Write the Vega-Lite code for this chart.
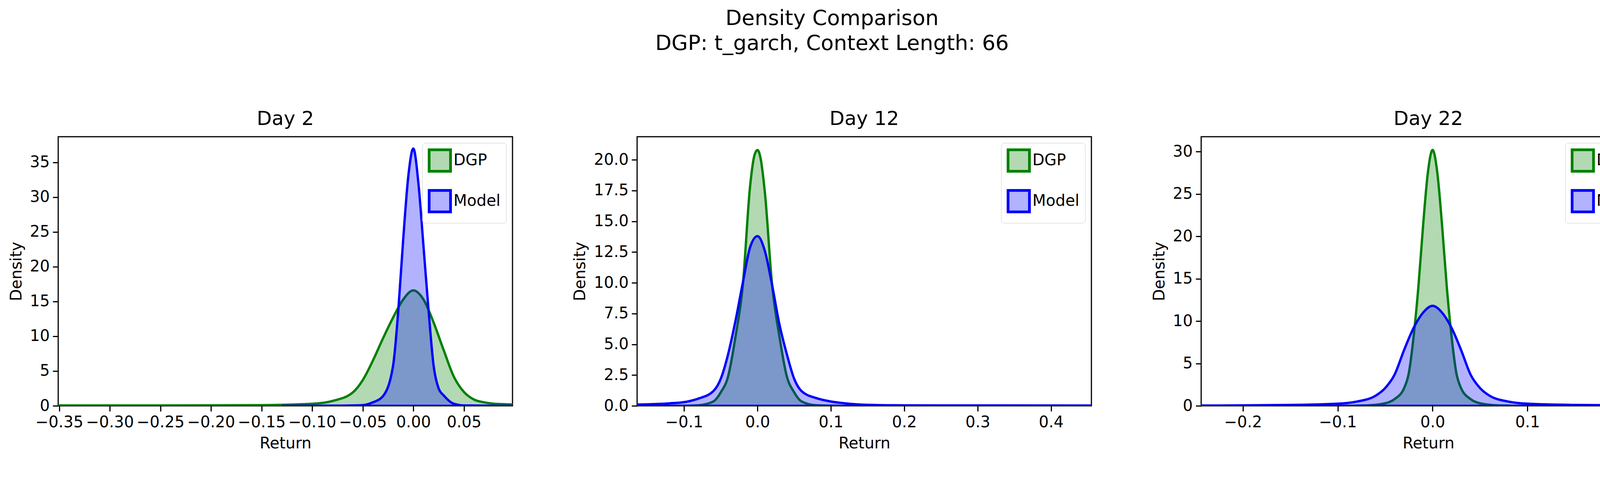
{
"$schema":"https://vega.github.io/schema/vega-lite/v6.json",
"background":"white",
"padding":{"left":20,"top":20,"right":20,"bottom":10},
"title":{"text":["Density Comparison","DGP: t_garch, Context Length: 66"],"fontSize":54,"font":"DejaVu Sans","fontWeight":"normal","color":"black","offset":140,"lineHeight":64,"anchor":"middle"},
"config":{"font":"DejaVu Sans","view":{"stroke":"black","strokeWidth":3},
"axis":{"grid":false,"domain":false,"tickColor":"black","tickWidth":3,"tickSize":14,"labelFontSize":40,"labelColor":"black","titleFontSize":40,"titleFontWeight":"normal","titleColor":"black","labelPadding":8,"titlePadding":14,"labelFont":"DejaVu Sans","titleFont":"DejaVu Sans"},
"title":{"fontSize":50,"fontWeight":"normal","font":"DejaVu Sans","offset":20},
"legend":{"orient":"top-right","title":null,"labelFontSize":40,"symbolType":"square","symbolSize":3000,"symbolStrokeWidth":7,"strokeColor":"#cccccc","fillColor":"white","padding":14,"cornerRadius":8,"rowPadding":20,"offset":16,"labelFont":"DejaVu Sans","labelColor":"black","symbolOpacity":1}},
"datasets":{
"d1":[
{"s":"DGP","x":-0.351,"y":0.05},{"s":"DGP","x":-0.25,"y":0.05},{"s":"DGP","x":-0.15,"y":0.1},{"s":"DGP","x":-0.1,"y":0.3},{"s":"DGP","x":-0.08,"y":0.7},{"s":"DGP","x":-0.06,"y":1.9},{"s":"DGP","x":-0.05,"y":3.7},{"s":"DGP","x":-0.04,"y":6.5},{"s":"DGP","x":-0.03,"y":9.7},{"s":"DGP","x":-0.02,"y":12.7},{"s":"DGP","x":-0.01,"y":15.3},{"s":"DGP","x":0,"y":16.6},{"s":"DGP","x":0.01,"y":15.3},{"s":"DGP","x":0.02,"y":12},{"s":"DGP","x":0.03,"y":8},{"s":"DGP","x":0.04,"y":4.2},{"s":"DGP","x":0.05,"y":2.0},{"s":"DGP","x":0.06,"y":0.9},{"s":"DGP","x":0.07,"y":0.5},{"s":"DGP","x":0.08,"y":0.3},{"s":"DGP","x":0.098,"y":0.2},
{"s":"Model","x":-0.13,"y":0.0},{"s":"Model","x":-0.07,"y":0.03},{"s":"Model","x":-0.05,"y":0.1},{"s":"Model","x":-0.04,"y":0.5},{"s":"Model","x":-0.03,"y":1.4},{"s":"Model","x":-0.02,"y":5.8},{"s":"Model","x":-0.015,"y":13.5},{"s":"Model","x":-0.01,"y":24},{"s":"Model","x":-0.005,"y":33},{"s":"Model","x":0,"y":37},{"s":"Model","x":0.005,"y":32},{"s":"Model","x":0.01,"y":23},{"s":"Model","x":0.015,"y":13.8},{"s":"Model","x":0.02,"y":5.8},{"s":"Model","x":0.025,"y":2.5},{"s":"Model","x":0.03,"y":1.5},{"s":"Model","x":0.04,"y":0.3},{"s":"Model","x":0.05,"y":0.05},{"s":"Model","x":0.098,"y":0.0}],
"d2":[
{"s":"DGP","x":-0.164,"y":0.0},{"s":"DGP","x":-0.1,"y":0.01},{"s":"DGP","x":-0.08,"y":0.05},{"s":"DGP","x":-0.06,"y":0.36},{"s":"DGP","x":-0.05,"y":1.1},{"s":"DGP","x":-0.04,"y":2.4},{"s":"DGP","x":-0.03,"y":5.6},{"s":"DGP","x":-0.02,"y":9.8},{"s":"DGP","x":-0.01,"y":17.9},{"s":"DGP","x":-0.004,"y":20.4},{"s":"DGP","x":0,"y":20.8},{"s":"DGP","x":0.004,"y":20.2},{"s":"DGP","x":0.01,"y":17.4},{"s":"DGP","x":0.02,"y":9.8},{"s":"DGP","x":0.03,"y":5.6},{"s":"DGP","x":0.04,"y":2.4},{"s":"DGP","x":0.05,"y":1.1},{"s":"DGP","x":0.06,"y":0.36},{"s":"DGP","x":0.08,"y":0.05},{"s":"DGP","x":0.12,"y":0.0},
{"s":"Model","x":-0.164,"y":0.1},{"s":"Model","x":-0.12,"y":0.2},{"s":"Model","x":-0.1,"y":0.3},{"s":"Model","x":-0.08,"y":0.6},{"s":"Model","x":-0.06,"y":1.2},{"s":"Model","x":-0.05,"y":2.2},{"s":"Model","x":-0.04,"y":4.2},{"s":"Model","x":-0.03,"y":6.9},{"s":"Model","x":-0.02,"y":10.0},{"s":"Model","x":-0.01,"y":12.9},{"s":"Model","x":0,"y":13.8},{"s":"Model","x":0.01,"y":12.6},{"s":"Model","x":0.02,"y":9.8},{"s":"Model","x":0.03,"y":6.6},{"s":"Model","x":0.04,"y":4.2},{"s":"Model","x":0.05,"y":2.2},{"s":"Model","x":0.06,"y":1.2},{"s":"Model","x":0.08,"y":0.63},{"s":"Model","x":0.1,"y":0.35},{"s":"Model","x":0.12,"y":0.2},{"s":"Model","x":0.15,"y":0.08},{"s":"Model","x":0.2,"y":0.04},{"s":"Model","x":0.3,"y":0.03},{"s":"Model","x":0.455,"y":0.02}],
"d3":[
{"s":"DGP","x":-0.244,"y":0.0},{"s":"DGP","x":-0.1,"y":0.01},{"s":"DGP","x":-0.07,"y":0.05},{"s":"DGP","x":-0.05,"y":0.3},{"s":"DGP","x":-0.04,"y":0.8},{"s":"DGP","x":-0.03,"y":2.1},{"s":"DGP","x":-0.025,"y":3.9},{"s":"DGP","x":-0.02,"y":8.2},{"s":"DGP","x":-0.015,"y":14},{"s":"DGP","x":-0.01,"y":21.3},{"s":"DGP","x":-0.005,"y":27.5},{"s":"DGP","x":0,"y":30.2},{"s":"DGP","x":0.005,"y":27.5},{"s":"DGP","x":0.01,"y":21.3},{"s":"DGP","x":0.015,"y":14},{"s":"DGP","x":0.02,"y":8.2},{"s":"DGP","x":0.025,"y":3.9},{"s":"DGP","x":0.03,"y":2.1},{"s":"DGP","x":0.04,"y":0.8},{"s":"DGP","x":0.05,"y":0.3},{"s":"DGP","x":0.07,"y":0.05},{"s":"DGP","x":0.1,"y":0.01},{"s":"DGP","x":0.235,"y":0.0},
{"s":"Model","x":-0.244,"y":0.03},{"s":"Model","x":-0.15,"y":0.1},{"s":"Model","x":-0.1,"y":0.25},{"s":"Model","x":-0.08,"y":0.5},{"s":"Model","x":-0.06,"y":1.2},{"s":"Model","x":-0.05,"y":2.1},{"s":"Model","x":-0.04,"y":3.7},{"s":"Model","x":-0.03,"y":6.6},{"s":"Model","x":-0.02,"y":9.2},{"s":"Model","x":-0.01,"y":11.0},{"s":"Model","x":0,"y":11.8},{"s":"Model","x":0.01,"y":11.0},{"s":"Model","x":0.02,"y":9.2},{"s":"Model","x":0.03,"y":6.6},{"s":"Model","x":0.04,"y":3.7},{"s":"Model","x":0.05,"y":2.1},{"s":"Model","x":0.06,"y":1.2},{"s":"Model","x":0.08,"y":0.5},{"s":"Model","x":0.1,"y":0.25},{"s":"Model","x":0.15,"y":0.1},{"s":"Model","x":0.235,"y":0.03}]},
"spacing":150,
"hconcat":[
{"title":"Day 2","width":1163,"height":689,"data":{"name":"d1"},"mark":{"type":"area","fillOpacity":0.3,"strokeWidth":6,"clip":true,"interpolate":"monotone"},
"encoding":{"x":{"field":"x","type":"quantitative","title":"Return","scale":{"domain":[-0.351,0.098],"nice":false,"zero":false},"axis":{"values":[-0.35,-0.3,-0.25,-0.2,-0.15,-0.1,-0.05,0,0.05],"format":".2f"}},
"y":{"field":"y","type":"quantitative","title":"Density","stack":null,"scale":{"domain":[0,38.7],"nice":false},"axis":{"values":[0,5,10,15,20,25,30,35]}},
"fill":{"field":"s","type":"nominal","scale":{"domain":["DGP","Model"],"range":["green","blue"]},"legend":{"symbolOpacity":1,"encode":{"symbols":{"update":{"fillOpacity":{"value":0.3},"strokeOpacity":{"value":1}}}}}},
"stroke":{"field":"s","type":"nominal","scale":{"domain":["DGP","Model"],"range":["green","blue"]}},
"order":{"field":"s"}}},
{"title":"Day 12","width":1163,"height":689,"data":{"name":"d2"},"mark":{"type":"area","fillOpacity":0.3,"strokeWidth":6,"clip":true,"interpolate":"monotone"},
"encoding":{"x":{"field":"x","type":"quantitative","title":"Return","scale":{"domain":[-0.164,0.455],"nice":false,"zero":false},"axis":{"values":[-0.1,0,0.1,0.2,0.3,0.4],"format":".1f"}},
"y":{"field":"y","type":"quantitative","title":"Density","stack":null,"scale":{"domain":[0,21.88],"nice":false},"axis":{"values":[0,2.5,5,7.5,10,12.5,15,17.5,20],"format":".1f"}},
"fill":{"field":"s","type":"nominal","scale":{"domain":["DGP","Model"],"range":["green","blue"]},"legend":{"symbolOpacity":1,"encode":{"symbols":{"update":{"fillOpacity":{"value":0.3},"strokeOpacity":{"value":1}}}}}},
"stroke":{"field":"s","type":"nominal","scale":{"domain":["DGP","Model"],"range":["green","blue"]}},
"order":{"field":"s"}}},
{"title":"Day 22","width":1163,"height":689,"data":{"name":"d3"},"mark":{"type":"area","fillOpacity":0.3,"strokeWidth":6,"clip":true,"interpolate":"monotone"},
"encoding":{"x":{"field":"x","type":"quantitative","title":"Return","scale":{"domain":[-0.244,0.235],"nice":false,"zero":false},"axis":{"values":[-0.2,-0.1,0,0.1,0.2],"format":".1f"}},
"y":{"field":"y","type":"quantitative","title":"Density","stack":null,"scale":{"domain":[0,31.76],"nice":false},"axis":{"values":[0,5,10,15,20,25,30]}},
"fill":{"field":"s","type":"nominal","scale":{"domain":["DGP","Model"],"range":["green","blue"]},"legend":{"symbolOpacity":1,"encode":{"symbols":{"update":{"fillOpacity":{"value":0.3},"strokeOpacity":{"value":1}}}}}},
"stroke":{"field":"s","type":"nominal","scale":{"domain":["DGP","Model"],"range":["green","blue"]}},
"order":{"field":"s"}}}
],
"resolve":{"scale":{"x":"independent","y":"independent","fill":"independent","stroke":"independent"}}
}
